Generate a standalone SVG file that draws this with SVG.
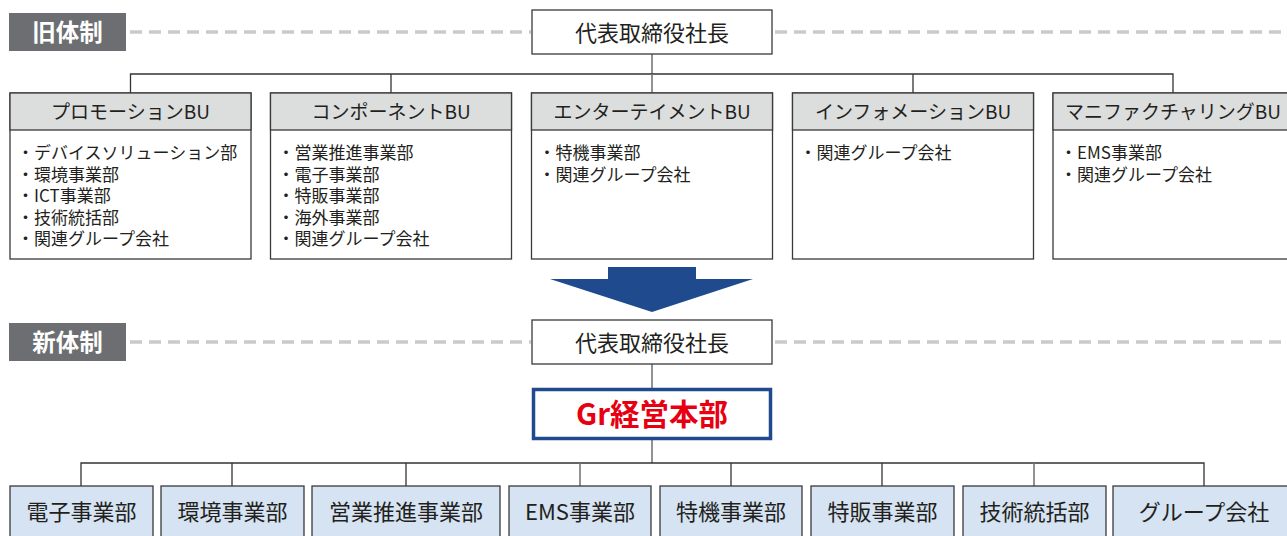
<svg xmlns="http://www.w3.org/2000/svg" width="1287" height="536" viewBox="0 0 1287 536">
<style>
text{font-family:"Noto Sans CJK JP","Noto Sans",sans-serif;fill:#231f20}
.lbl{fill:#6d6e71}
.lbltx{fill:#fff;font-size:23.5px;font-weight:bold;text-anchor:middle}
.dash{stroke:#c9cacb;stroke-width:3.5;stroke-dasharray:12 7;fill:none}
.box{fill:#fff;stroke:#3a3a3a;stroke-width:1.3}
.hdr{fill:#dcdddd;stroke:#3a3a3a;stroke-width:1.3}
.ceo{font-size:22px;text-anchor:middle}
.ht{font-size:19px;text-anchor:middle}
.bt{font-size:17px}
.con{stroke:#333;stroke-width:1.3;fill:none}
.con2{stroke:#777;stroke-width:1.6;fill:none}
.div{fill:#d5e3f2;stroke:#3a3a3a;stroke-width:1.3}
.dt{font-size:22px;text-anchor:middle}
</style>

<g id="old-label">
<rect class="lbl" x="9" y="13" width="117" height="38"/>
<text class="lbltx" x="67.5" y="41">旧体制</text>
</g>
<g id="new-label">
<rect class="lbl" x="9" y="323" width="117" height="38"/>
<text class="lbltx" x="67.5" y="351">新体制</text>
</g>
<g id="dashes">
<line class="dash" x1="130" y1="32" x2="531" y2="32"/>
<line class="dash" x1="775" y1="32" x2="1287" y2="32"/>
<line class="dash" x1="130" y1="342" x2="531" y2="342"/>
<line class="dash" x1="775" y1="342" x2="1287" y2="342"/>
</g>

<g id="connectors">
<line class="con2" x1="652" y1="54" x2="652" y2="74"/>
<polyline class="con" points="130.5,93 130.5,74 1173,74 1173,93"/>
<line class="con" x1="391" y1="74" x2="391" y2="93"/>
<line class="con2" x1="652" y1="74" x2="652" y2="93"/>
<line class="con" x1="913" y1="74" x2="913" y2="93"/>
<line class="con2" x1="652" y1="364" x2="652" y2="388"/>
<line class="con2" x1="652" y1="440" x2="652" y2="463"/>
<polyline class="con" points="81,486 81,463 1204,463 1204,486"/>
<line class="con" x1="232" y1="463" x2="232" y2="486"/>
<line class="con" x1="406" y1="463" x2="406" y2="486"/>
<line class="con2" x1="580" y1="463" x2="580" y2="486"/>
<line class="con" x1="731" y1="463" x2="731" y2="486"/>
<line class="con" x1="882" y1="463" x2="882" y2="486"/>
<line class="con2" x1="1034" y1="463" x2="1034" y2="486"/>
</g>

<g id="ceo-old">
<rect class="box" x="532" y="10" width="240" height="44"/>
<text class="ceo" x="652" y="40.5">代表取締役社長</text>
</g>

<g id="bu-promotion">
<rect class="box" x="10" y="93" width="241" height="166"/>
<rect class="hdr" x="10" y="93" width="241" height="37"/>
<text class="ht" x="130.5" y="119">プロモーションBU</text>
<text class="bt" x="17" y="159">・デバイスソリューション部</text>
<text class="bt" x="17" y="180.6">・環境事業部</text>
<text class="bt" x="17" y="202.2">・ICT事業部</text>
<text class="bt" x="17" y="223.8">・技術統括部</text>
<text class="bt" x="17" y="245.4">・関連グループ会社</text>
</g>

<g id="bu-component">
<rect class="box" x="270.5" y="93" width="241" height="166"/>
<rect class="hdr" x="270.5" y="93" width="241" height="37"/>
<text class="ht" x="391" y="119">コンポーネントBU</text>
<text class="bt" x="277.5" y="159">・営業推進事業部</text>
<text class="bt" x="277.5" y="180.6">・電子事業部</text>
<text class="bt" x="277.5" y="202.2">・特販事業部</text>
<text class="bt" x="277.5" y="223.8">・海外事業部</text>
<text class="bt" x="277.5" y="245.4">・関連グループ会社</text>
</g>

<g id="bu-entertainment">
<rect class="box" x="531.5" y="93" width="241" height="166"/>
<rect class="hdr" x="531.5" y="93" width="241" height="37"/>
<text class="ht" x="652" y="119">エンターテイメントBU</text>
<text class="bt" x="538.5" y="159">・特機事業部</text>
<text class="bt" x="538.5" y="180.6">・関連グループ会社</text>
</g>

<g id="bu-information">
<rect class="box" x="792.5" y="93" width="241" height="166"/>
<rect class="hdr" x="792.5" y="93" width="241" height="37"/>
<text class="ht" x="913" y="119">インフォメーションBU</text>
<text class="bt" x="799.5" y="159">・関連グループ会社</text>
</g>

<g id="bu-manufacturing">
<rect class="box" x="1053" y="93" width="241" height="166"/>
<rect class="hdr" x="1053" y="93" width="241" height="37"/>
<text class="ht" x="1173" y="119">マニファクチャリングBU</text>
<text class="bt" x="1060" y="159">・EMS事業部</text>
<text class="bt" x="1060" y="180.6">・関連グループ会社</text>
</g>

<g id="transition-arrow">
<polygon fill="#1f4b8e" points="608,267 696,267 696,279 753,279 652,312 550,279 608,279"/>
</g>

<g id="ceo-new">
<rect class="box" x="532" y="320" width="240" height="44"/>
<text class="ceo" x="652" y="350.5">代表取締役社長</text>
</g>

<g id="gr-hq">
<rect x="533.5" y="389.5" width="237" height="49" fill="#fff" stroke="#1f4b8e" stroke-width="3.5"/>
<text x="652" y="425" text-anchor="middle" font-size="29.5" font-weight="bold" style="fill:#e60012">Gr経営本部</text>
</g>

<g id="div-denshi"><rect class="div" x="10" y="486" width="143" height="60"/><text class="dt" x="81.5" y="520">電子事業部</text></g>
<g id="div-kankyo"><rect class="div" x="161" y="486" width="143" height="60"/><text class="dt" x="232.5" y="520">環境事業部</text></g>
<g id="div-eigyo"><rect class="div" x="312" y="486" width="188" height="60"/><text class="dt" x="406" y="520">営業推進事業部</text></g>
<g id="div-ems"><rect class="div" x="509" y="486" width="142" height="60"/><text class="dt" x="580" y="520">EMS事業部</text></g>
<g id="div-tokki"><rect class="div" x="660" y="486" width="142" height="60"/><text class="dt" x="731" y="520">特機事業部</text></g>
<g id="div-tokuhan"><rect class="div" x="811" y="486" width="143" height="60"/><text class="dt" x="882.5" y="520">特販事業部</text></g>
<g id="div-gijutsu"><rect class="div" x="963" y="486" width="143" height="60"/><text class="dt" x="1034.5" y="520">技術統括部</text></g>
<g id="div-group"><rect class="div" x="1113" y="486" width="182" height="60"/><text class="dt" x="1204" y="520">グループ会社</text></g>
</svg>
